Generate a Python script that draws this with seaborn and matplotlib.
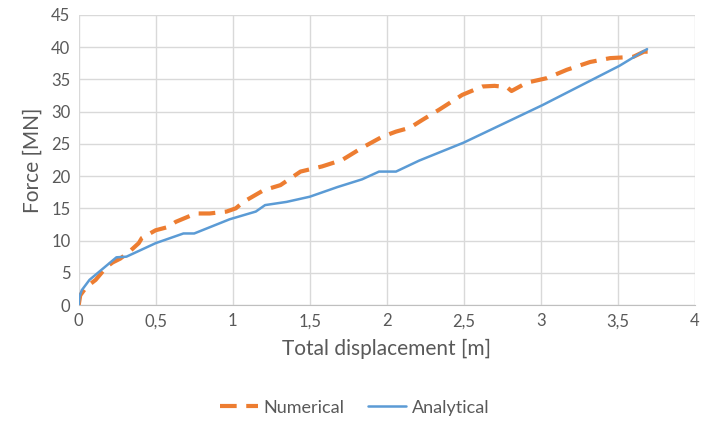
import pandas as pd
import matplotlib.pyplot as plt
import matplotlib.ticker as mticker
import seaborn as sns

# Data
num_disp = [0.0, 0.01, 0.05, 0.11, 0.18, 0.22, 0.27, 0.33, 0.39, 0.41, 0.5, 0.58, 0.63,
            0.76, 0.85, 0.96, 1.02, 1.07, 1.2, 1.31, 1.44, 1.58, 1.71, 1.84, 1.97,
            2.06, 2.15, 2.23, 2.34, 2.49, 2.62, 2.7, 2.78, 2.81, 2.91, 3.04, 3.17,
            3.32, 3.45, 3.6, 3.67, 3.71]
num_force = [0.0, 1.5, 2.8, 3.9, 5.9, 6.6, 7.2, 8.3, 9.6, 10.4, 11.6, 12.1, 12.9,
             14.2, 14.2, 14.5, 15.0, 16.0, 17.8, 18.6, 20.7, 21.5, 22.5, 24.4, 26.1,
             26.9, 27.5, 28.7, 30.3, 32.6, 33.9, 34.0, 33.8, 33.2, 34.5, 35.2, 36.5,
             37.7, 38.3, 38.5, 39.3, 39.3]

ana_disp = [0.0, 0.005, 0.02, 0.07, 0.16, 0.245, 0.31, 0.5, 0.68, 0.75, 0.98, 1.15,
            1.21, 1.35, 1.5, 1.68, 1.84, 1.95, 2.06, 2.21, 2.5, 3.01, 3.51, 3.69]
ana_force = [0.0, 1.3, 2.3, 3.9, 5.7, 7.4, 7.5, 9.6, 11.1, 11.1, 13.3, 14.5,
             15.5, 16.0, 16.8, 18.3, 19.5, 20.7, 20.7, 22.4, 25.2, 31.0, 37.1, 39.7]

df = pd.concat([
    pd.DataFrame({'disp': num_disp, 'force': num_force, 'series': 'Numerical'}),
    pd.DataFrame({'disp': ana_disp, 'force': ana_force, 'series': 'Analytical'}),
])

sns.set_style('white')
plt.rcParams['font.family'] = ['Lato', 'DejaVu Sans']

fig = plt.figure(figsize=(7.09, 4.21), dpi=100)
ax = fig.add_axes([0.111, 0.2755, 0.869, 0.689])

palette = {'Numerical': '#ED7D31', 'Analytical': '#5B9BD5'}
sns.lineplot(data=df[df['series'] == 'Numerical'], x='disp', y='force', sort=False,
             color=palette['Numerical'], linewidth=3, linestyle=(0, (4, 2.3)),
             label='Numerical', ax=ax, zorder=3)
sns.lineplot(data=df[df['series'] == 'Analytical'], x='disp', y='force', sort=False,
             color=palette['Analytical'], linewidth=1.8, label='Analytical', ax=ax, zorder=4)

ax.set_xlim(0, 4)
ax.set_ylim(0, 45)
ax.xaxis.set_major_locator(mticker.MultipleLocator(0.5))
ax.yaxis.set_major_locator(mticker.MultipleLocator(5))
ax.xaxis.set_major_formatter(mticker.FuncFormatter(lambda v, p: f'{v:g}'.replace('.', ',')))
ax.grid(True, color='#d9d9d9', linewidth=1)
for s in ['top', 'right', 'left']:
    ax.spines[s].set_visible(False)
ax.spines['bottom'].set_color('#bfbfbf')
ax.tick_params(axis='both', length=0, labelsize=12, labelcolor='#595959', pad=6)

ax.set_xlabel('Total displacement [m]', fontsize=15, color='#595959', labelpad=7)
ax.set_ylabel('Force [MN]', fontsize=15, color='#595959', labelpad=6)

ax.legend(loc='upper center', bbox_to_anchor=(0.448, -0.27), ncol=2, frameon=False,
          fontsize=13, labelcolor='#595959', handlelength=2.1, handletextpad=0.3,
          columnspacing=1.3)

fig.savefig('out.png', dpi=100)
